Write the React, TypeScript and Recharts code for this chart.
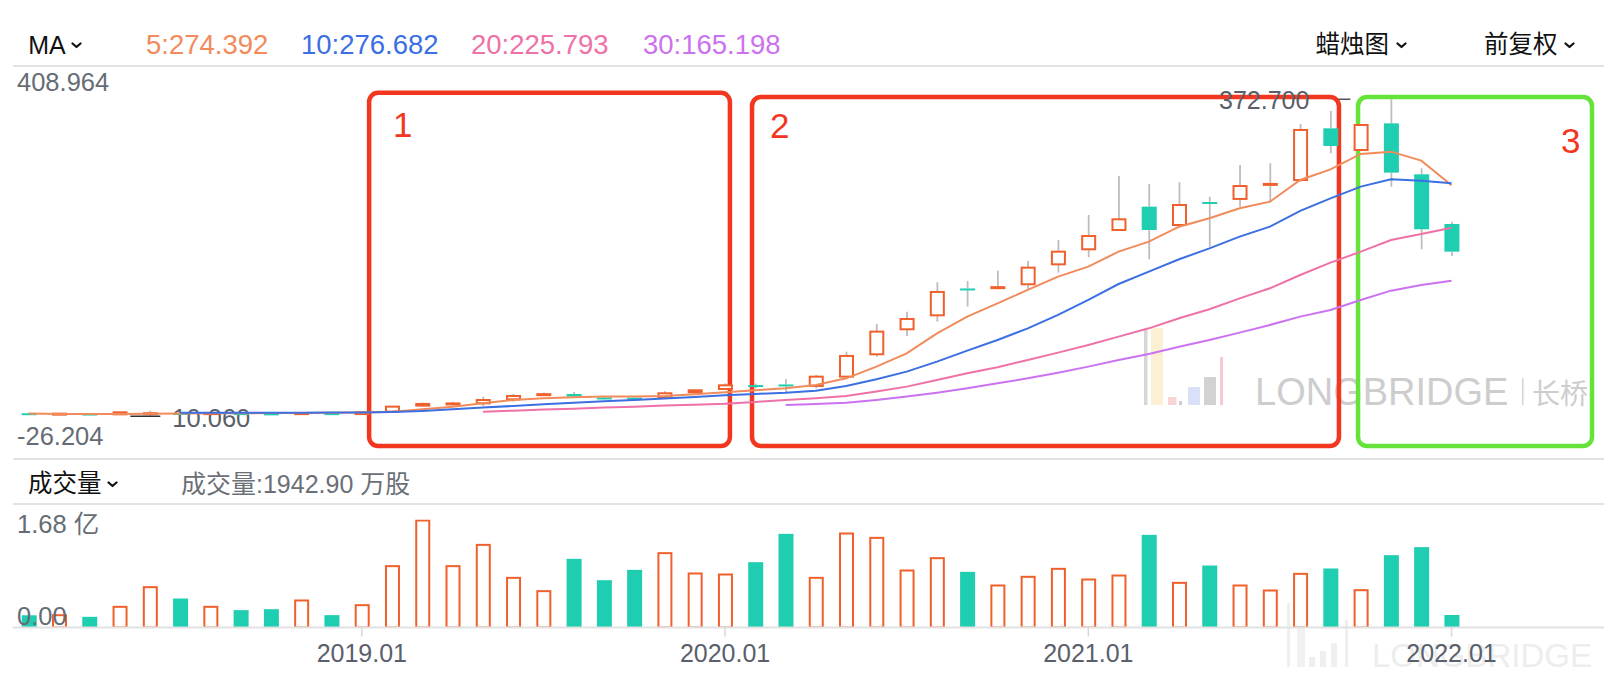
import { Bar, BarChart, ComposedChart, Line, ReferenceArea, XAxis, YAxis } from "recharts";

const MONTHS = [
  "2018.02", "2018.03", "2018.04", "2018.05", "2018.06", "2018.07", "2018.08", "2018.09", "2018.10", "2018.11", "2018.12",
  "2019.01", "2019.02", "2019.03", "2019.04", "2019.05", "2019.06", "2019.07", "2019.08", "2019.09", "2019.10", "2019.11", "2019.12",
  "2020.01", "2020.02", "2020.03", "2020.04", "2020.05", "2020.06", "2020.07", "2020.08", "2020.09", "2020.10", "2020.11", "2020.12",
  "2021.01", "2021.02", "2021.03", "2021.04", "2021.05", "2021.06", "2021.07", "2021.08", "2021.09", "2021.10", "2021.11", "2021.12",
  "2022.01",
];

const OPEN = [
  13.6, 12.6, 13.2, 12.3, 13.2, 13.8, 13.2, 13.7, 13.4, 13.1, 13.7, 12.6,
  15.4, 22.3, 24.2, 24.9, 29.5, 34.9, 35.6, 31.6, 31.4, 31.8, 37.5, 41.3,
  45.8, 46.5, 44.8, 55.4, 81.0, 109.6, 125.6, 156.3, 157.2, 161.1, 183.9, 201.1,
  223.2, 249.9, 228.9, 255.2, 258.7, 275.0, 280.4, 339.5, 314.7, 345.2, 286.9, 230.1,
];
const HIGH = [
  14.0, 13.6, 13.5, 15.0, 16.4, 14.3, 14.0, 14.0, 13.8, 14.1, 13.9, 15.2,
  21.6, 25.7, 26.8, 32.6, 35.6, 37.1, 37.9, 33.3, 32.2, 38.7, 40.9, 47.8,
  47.5, 52.4, 57.4, 84.0, 115.7, 129.8, 163.4, 164.9, 176.7, 187.8, 211.8, 240.4,
  285.0, 275.8, 277.7, 261.3, 297.6, 299.5, 344.5, 359.3, 343.8, 372.7, 293.8, 232.7,
];
const LOW = [
  12.6, 12.2, 12.3, 12.0, 10.06, 12.9, 12.9, 13.0, 12.8, 12.9, 13.0, 12.3,
  15.0, 21.1, 22.3, 21.9, 26.8, 33.3, 31.8, 29.5, 30.3, 31.4, 36.4, 40.2,
  42.0, 36.4, 42.1, 53.5, 78.3, 101.9, 118.4, 135.5, 155.3, 155.3, 174.4, 192.0,
  222.5, 189.7, 227.0, 204.1, 249.9, 254.5, 278.5, 310.9, 313.9, 272.8, 201.1, 193.5,
];
const CLOSE = [
  13.0, 13.1, 12.7, 14.6, 13.6, 13.3, 13.7, 13.3, 13.1, 13.7, 13.3, 14.6,
  21.1, 24.2, 24.8, 28.7, 33.3, 35.4, 32.6, 31.3, 30.9, 36.4, 39.8, 45.5,
  45.2, 45.5, 55.4, 79.1, 106.9, 121.4, 152.3, 155.2, 157.8, 180.1, 198.4, 216.3,
  235.4, 223.2, 251.8, 254.0, 273.5, 275.9, 337.6, 319.3, 343.3, 288.8, 224.0, 198.4,
];

const MA5 = [
  13.2, 12.8, 12.6, 12.7, 13.0, 13.3, 13.5, 13.6, 13.7, 13.8, 14.0, 14.4,
  15.4, 18.1, 21.1, 24.9, 28.7, 30.7, 31.8, 32.6, 32.6, 33.3, 35.2, 37.5,
  39.8, 42.1, 45.9, 53.5, 66.9, 82.1, 105.0, 124.1, 139.3, 154.6, 169.8, 181.3,
  198.4, 209.9, 227.0, 236.6, 248.0, 255.6, 280.4, 292.6, 310.2, 312.8, 302.5, 274.392,
];
const MA10 = [
  null, null, null, null, null, 14.0, 14.0, 14.1, 14.1, 14.2, 14.3, 14.4,
  15.0, 16.2, 18.1, 20.0, 21.9, 23.8, 25.7, 27.2, 28.7, 30.3, 32.2, 34.1,
  35.6, 37.1, 39.4, 44.8, 52.4, 61.2, 72.6, 85.2, 97.4, 110.7, 126.0, 143.2,
  161.4, 175.6, 189.7, 202.2, 215.6, 227.0, 245.0, 259.4, 272.8, 281.2, 279.6, 276.682,
];
const MA20 = [
  null, null, null, null, null, null, null, null, null, null, null, null,
  null, null, null, 15.4, 16.5, 17.7, 18.8, 20.0, 21.1, 22.3, 23.4, 24.5,
  26.5, 28.8, 30.7, 33.3, 38.3, 44.0, 51.6, 59.3, 66.1, 74.5, 82.9, 91.7,
  101.2, 110.7, 122.2, 132.5, 145.0, 156.5, 171.7, 185.9, 198.4, 211.8, 218.6, 225.793,
];
const MA30 = [
  null, null, null, null, null, null, null, null, null, null, null, null,
  null, null, null, null, null, null, null, null, null, null, null, null,
  null, 23.0, 24.2, 25.7, 28.8, 32.6, 37.1, 42.1, 47.8, 53.5, 60.0, 66.9,
  74.5, 81.4, 89.7, 97.4, 105.8, 114.6, 124.1, 131.7, 143.1, 153.8, 160.3, 165.198,
];

// volume in 万股
const VOLUME = [
  1900, 2070, 1660, 3370, 6430, 4510, 3370, 2700, 2850, 4360, 1920, 3630,
  9700, 16800, 9700, 13010, 7880, 5810, 10680, 7360, 8970, 11720, 8560, 8400,
  10160, 14570, 7880, 14780, 14100, 9020, 10940, 8660, 6690, 8040, 9280, 7620,
  8240, 14410, 7100, 9640, 6690, 5910, 8500, 9180, 5960, 11250, 12500, 1942.9,
];

const PRICE_RANGE = [-26.204, 408.964];
const VOLUME_MAX = 16800;

const rows = MONTHS.map((month, i) => ({
  i,
  month,
  open: OPEN[i],
  high: HIGH[i],
  low: LOW[i],
  close: CLOSE[i],
  ma5: MA5[i],
  ma10: MA10[i],
  ma20: MA20[i],
  ma30: MA30[i],
  vol: VOLUME[i],
}));

const last = rows.length - 1;
const maxIdx = HIGH.indexOf(Math.max(...HIGH));
const minIdx = LOW.indexOf(Math.min(...LOW));
const YEAR_TICKS = rows.filter((r) => r.month.endsWith(".01")).map((r) => r.i);

const FONT = '"Liberation Sans", Arial, "Noto Sans CJK SC", sans-serif';
const UP = "#F0602C";
const DOWN = "#1FCDB0";
const WICK = "#BDBDBD";
const AXIS_TEXT = "#666C75";
const X_DOMAIN = [-0.534, 52.036];
const MARGIN_X = { left: 12.7, right: 12 };

const MA_META = [
  { key: "ma5", label: "5", values: MA5, color: "#F28B5B", left: 146 },
  { key: "ma10", label: "10", values: MA10, color: "#3B6FE2", left: 301 },
  { key: "ma20", label: "20", values: MA20, color: "#EE71A7", left: 471 },
  { key: "ma30", label: "30", values: MA30, color: "#CC72F0", left: 643 },
];

// hand-drawn annotation frames, in chart units
const BOXES = [
  { tag: "1", x1: 11.24, x2: 23.16, y1: -23.9, y2: 380.1, color: "#F2361F", dx: 24, dy: 44, end: false },
  { tag: "2", x1: 23.89, x2: 43.28, y1: -23.9, y2: 375.3, color: "#F2361F", dx: 18, dy: 41, end: false },
  { tag: "3", x1: 43.91, x2: 51.64, y1: -23.9, y2: 375.3, color: "#66E33A", dx: -11.5, dy: 55.5, end: true },
];

function Txt({ x, y, size, color, children, weight }: any) {
  return (
    <span
      style={{
        position: "absolute",
        left: x,
        top: y - size / 2,
        fontSize: size,
        lineHeight: `${size}px`,
        color,
        whiteSpace: "nowrap",
        fontWeight: weight || 400,
      }}
    >
      {children}
    </span>
  );
}

function Chevron({ x, y }: any) {
  return (
    <svg style={{ position: "absolute", left: x, top: y - 3 }} width={11} height={7}>
      <polyline points="1.5,1.5 5.5,5 9.5,1.5" fill="none" stroke="#111" strokeWidth={2.2} strokeLinecap="round" strokeLinejoin="round" />
    </svg>
  );
}

function Rule({ y }: any) {
  return <div style={{ position: "absolute", left: 12.7, width: 1591.3, top: y - 1, height: 2, background: "#E2E2E2" }} />;
}

function Candle(p: any) {
  const { x, y, width, height, payload } = p;
  if (payload == null || height == null) return null;
  const { open, close, high, low, i } = payload;
  const cx = x + width / 2;
  const yHigh = Math.min(y, y + height);
  const yLow = Math.max(y, y + height);
  const k = (yLow - yHigh) / (high - low);
  const yO = yHigh + (high - open) * k;
  const yC = yHigh + (high - close) * k;
  const top = Math.min(yO, yC);
  const bot = Math.max(yO, yC);
  const up = close >= open;
  return (
    <g>
      <line x1={cx} x2={cx} y1={yHigh} y2={top} stroke={WICK} strokeWidth={1.8} />
      <line x1={cx} x2={cx} y1={bot} y2={yLow} stroke={WICK} strokeWidth={1.8} />
      {up ? (
        <rect x={cx - 6.5} y={top} width={13} height={Math.max(bot - top, 1)} fill="#fff" stroke={UP} strokeWidth={2} />
      ) : (
        <rect x={cx - 7.5} y={top} width={15} height={Math.max(bot - top, 2)} fill={DOWN} />
      )}
      {i === maxIdx && (
        <g>
          <line x1={cx - 53} x2={cx - 41} y1={yHigh} y2={yHigh} stroke="#555" strokeWidth={1.5} />
          <text x={cx - 82} y={yHigh + 1} textAnchor="end" dominantBaseline="central" fontSize={25} fill="#5A5F68" fontFamily={FONT}>
            {high.toFixed(3)}
          </text>
        </g>
      )}
      {i === minIdx && (
        <g>
          <line x1={cx - 20} x2={cx + 10} y1={yLow} y2={yLow} stroke="#333" strokeWidth={1.5} />
          <text x={cx + 22} y={yLow + 1.5} dominantBaseline="central" fontSize={25.5} fill="#5A5F68" fontFamily={FONT}>
            {low.toFixed(3)}
          </text>
        </g>
      )}
    </g>
  );
}

function VolBar(p: any) {
  const { x, y, width, height, payload } = p;
  if (payload == null || !height) return null;
  const cx = x + width / 2;
  const up = payload.close >= payload.open;
  return up ? (
    <rect x={cx - 6.5} y={y + 1} width={13} height={Math.max(height - 1, 1)} fill="#fff" stroke={UP} strokeWidth={2} />
  ) : (
    <rect x={cx - 7.5} y={y} width={15} height={height} fill={DOWN} />
  );
}

function PriceTick(p: any) {
  const v = p.payload.value;
  const isTop = v === PRICE_RANGE[1];
  return (
    <text x={17} y={p.y + (isTop ? 14.8 : -12)} textAnchor="start" dominantBaseline="central" fontSize={25.5} fill={AXIS_TEXT} fontFamily={FONT}>
      {v.toFixed(3)}
    </text>
  );
}

function VolTick(p: any) {
  const v = p.payload.value;
  const isTop = v === VOLUME_MAX;
  return (
    <text x={17} y={p.y + (isTop ? 4.5 : -12)} textAnchor="start" dominantBaseline="central" fontSize={25.5} fill={AXIS_TEXT} fontFamily={FONT}>
      {isTop ? `${(v / 10000).toFixed(2)} 亿` : v.toFixed(2)}
    </text>
  );
}

function MonthTick(p: any) {
  return (
    <text x={p.x} y={p.y + 14} textAnchor="middle" dominantBaseline="central" fontSize={25} fill="#5A606B" fontFamily={FONT}>
      {MONTHS[p.payload.value]}
    </text>
  );
}

function boxShape(b: any) {
  return (p: any) => {
    const { x, y, width, height } = p;
    return (
      <g>
        <rect x={x} y={y} width={width} height={height} rx={9} fill="none" stroke={b.color} strokeWidth={4.5} />
        <text
          x={b.end ? x + width + b.dx : x + b.dx}
          y={y + b.dy}
          textAnchor={b.end ? "end" : "start"}
          fontSize={35}
          fill="#F2361F"
          fontFamily={FONT}
        >
          {b.tag}
        </text>
      </g>
    );
  };
}

function Watermark() {
  return (
    <svg style={{ position: "absolute", left: 0, top: 0 }} width={1616} height={690}>
      <g>
        <rect x={1144} y={328} width={3.5} height={77} fill="#D6D6D6" />
        <rect x={1151} y={328} width={12} height={77} fill="#FBEFD4" />
        <rect x={1168} y={397} width={8.5} height={8} fill="#F8D6D8" />
        <rect x={1179} y={401} width={3} height={4} fill="#CFCFCF" />
        <rect x={1188} y={387} width={12} height={18} fill="#DAE0F8" />
        <rect x={1204} y={377} width={12} height={28} fill="#D2D2D2" />
        <rect x={1220} y={357} width={3} height={48} fill="#F6CBD0" />
        <text x={1255} y={405} fontSize={38} fill="#CDCDCD" fontFamily={FONT}>LONGBRIDGE</text>
        <rect x={1522} y={378} width={1.5} height={27} fill="#D4D4D4" />
        <text x={1532} y={404} fontSize={28} fill="#CDCDCD" fontFamily={FONT}>长桥</text>
      </g>
      <g>
        <rect x={1287} y={603} width={3} height={64} fill="#EFEFEF" />
        <rect x={1297} y={603} width={8} height={64} fill="#F1F1F1" />
        <rect x={1309} y={657} width={6} height={10} fill="#EFEFEF" />
        <rect x={1320} y={651} width={6} height={16} fill="#EFEFEF" />
        <rect x={1331} y={643} width={6} height={24} fill="#EFEFEF" />
        <rect x={1345} y={620} width={3} height={47} fill="#EFEFEF" />
        <text x={1372} y={667} fontSize={33} fill="#EDEDED" fontFamily={FONT}>LONGBRIDGE</text>
      </g>
    </svg>
  );
}

export default function App() {
  return (
    <div
      style={{
        position: "absolute",
        left: 0,
        top: 0,
        width: 1616,
        height: 690,
        background: "#fff",
        overflow: "hidden",
        fontFamily: FONT,
      }}
    >
      <Watermark />

      {/* header */}
      <Txt x={28.3} y={45} size={25} color="#111">MA</Txt>
      <Chevron x={71} y={45} />
      {MA_META.map((m) => (
        <Txt key={m.key} x={m.left} y={45} size={27.5} color={m.color}>
          {m.label}:{(m.values[last] as number).toFixed(3)}
        </Txt>
      ))}
      <Txt x={1315.6} y={45} size={24.5} color="#111">蜡烛图</Txt>
      <Chevron x={1396} y={45} />
      <Txt x={1484} y={45} size={24.5} color="#111">前复权</Txt>
      <Chevron x={1564} y={45} />
      <Rule y={65.7} />

      {/* price */}
      <div style={{ position: "absolute", left: 0, top: 0 }}>
        <ComposedChart width={1616} height={470} data={rows} margin={{ top: 67.6, bottom: 22, ...MARGIN_X }}>
          <XAxis type="number" dataKey="i" domain={X_DOMAIN} hide allowDataOverflow />
          <YAxis
            type="number"
            domain={PRICE_RANGE}
            ticks={PRICE_RANGE}
            interval={0}
            mirror
            axisLine={false}
            tickLine={false}
            tick={PriceTick}
            allowDataOverflow
          />
          <Bar dataKey={(d: any) => [d.low, d.high]} barSize={15} shape={Candle} isAnimationActive={false} />
          {MA_META.map((m) => (
            <Line
              key={m.key}
              type="linear"
              dataKey={m.key}
              stroke={m.color}
              strokeWidth={2}
              dot={false}
              activeDot={false}
              isAnimationActive={false}
            />
          ))}
          {BOXES.map((b) => (
            <ReferenceArea key={b.tag} x1={b.x1} x2={b.x2} y1={b.y1} y2={b.y2} ifOverflow="visible" shape={boxShape(b)} />
          ))}
        </ComposedChart>
      </div>
      <Rule y={459} />

      {/* volume header */}
      <Txt x={28} y={484} size={24.5} color="#111">成交量</Txt>
      <Chevron x={107} y={484} />
      <Txt x={181} y={484} size={25} color="#6B6F76">
        成交量:{VOLUME[last].toFixed(2)} 万股
      </Txt>
      <Rule y={504} />

      {/* volume */}
      <div style={{ position: "absolute", left: 0, top: 470 }}>
        <BarChart width={1616} height={220} data={rows} margin={{ top: 49.5, bottom: 22.5, ...MARGIN_X }}>
          <XAxis
            type="number"
            dataKey="i"
            domain={X_DOMAIN}
            ticks={YEAR_TICKS}
            interval={0}
            height={40}
            axisLine={{ stroke: "#E2E2E2", strokeWidth: 2 }}
            tickLine={{ stroke: "#D8D8D8", strokeWidth: 1.5 }}
            tickSize={9}
            tick={MonthTick}
            allowDataOverflow
          />
          <YAxis
            type="number"
            domain={[0, VOLUME_MAX]}
            ticks={[VOLUME_MAX, 0]}
            interval={0}
            mirror
            axisLine={false}
            tickLine={false}
            tick={VolTick}
            allowDataOverflow
          />
          <Bar dataKey="vol" barSize={15} shape={VolBar} isAnimationActive={false} />
        </BarChart>
      </div>
    </div>
  );
}
